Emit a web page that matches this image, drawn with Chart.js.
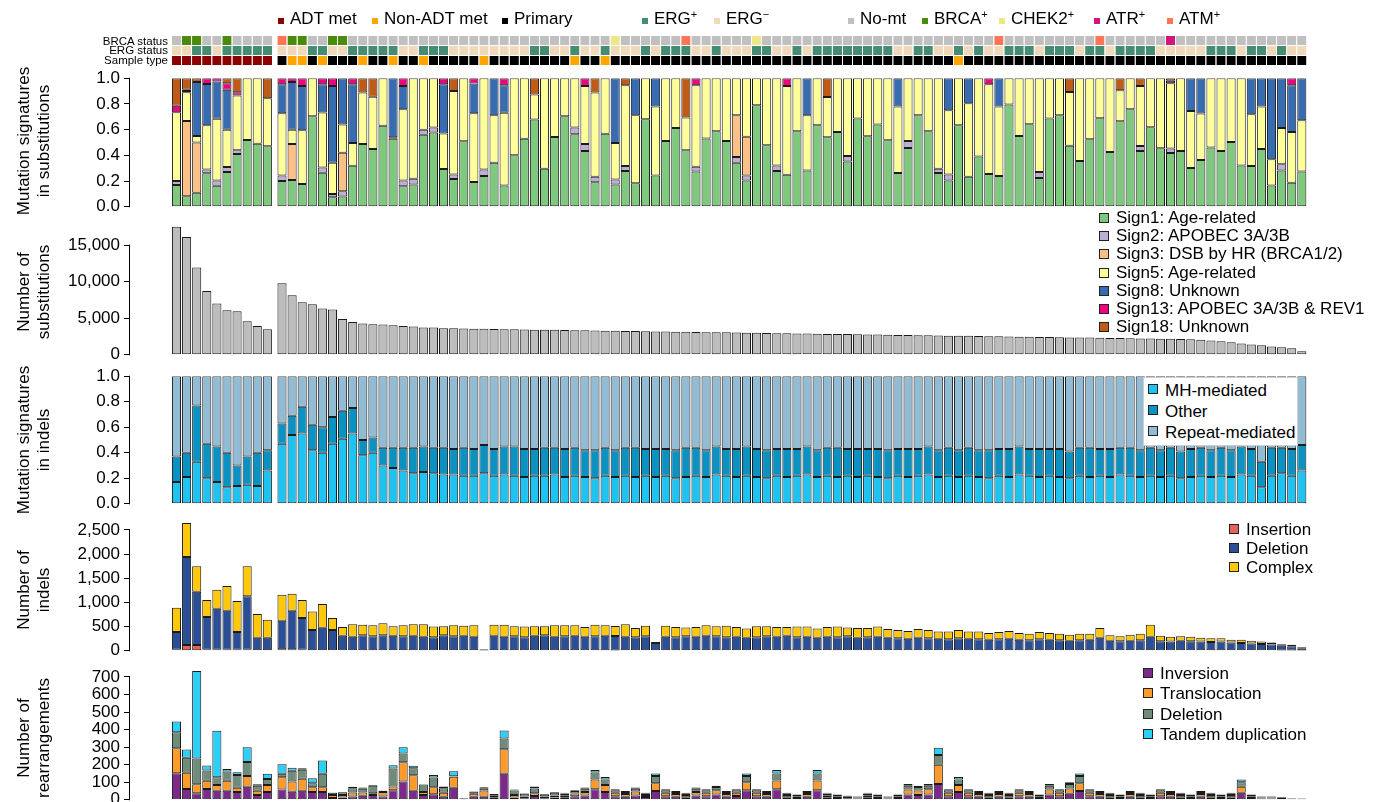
<!DOCTYPE html>
<html>
<head>
<meta charset="utf-8">
<script src="https://cdn.jsdelivr.net/npm/chart.js@4.4.1/dist/chart.umd.min.js"></script>
<style>
  body { margin: 0; background: #fff; font-family: "Liberation Sans", Arial, sans-serif; color: #000; }
  #wrap { position: relative; width: 1380px; height: 802px; overflow: hidden; }
  canvas { position: absolute; left: 0; }
  .lab { position: absolute; white-space: nowrap; }
  .ytitle { position: absolute; width: 220px; height: 40px; line-height: 20px; font-size: 17px;
            text-align: center; transform: rotate(-90deg); white-space: nowrap; }
  .leg { position: absolute; font-size: 17px; z-index: 5; }
  .leg div { position: relative; height: 19px; line-height: 19px; padding-left: 17px; white-space: nowrap; }
  .leg i { position: absolute; left: 0; top: 4px; width: 10px; height: 10px; border: 1px solid #222; box-sizing: border-box; }
  sup { font-size: 11px; vertical-align: 6px; line-height: 0; }
</style>
</head>
<body>
<div id="wrap">
  <canvas id="tracks"></canvas>
  <canvas id="c1"></canvas>
  <canvas id="c2"></canvas>
  <canvas id="c3"></canvas>
  <canvas id="c4"></canvas>
  <canvas id="c5"></canvas>
</div>
<script>
// ---- data: first line = 10 ADT metastases, then 102 other samples (rows of 10) ----
const groupSizes = [10, 102];

const brcaStatus = ('NBBNNBNNNN' +
  'MBBNNBBNNNNNNNNNNNNNNNNNNNNNNNNNNCNNNNNNMNNNNNNCNNNNNNNNNNNNNNNNNNNNNNNMNNNNNNNNNMNNNNNNRNNNNNNNNNNNNN').split('');
const ergStatus = ('--++-+++++' +
  '---++--+++++--+++--------++--+--+---+-+++--+---++--+-++++++++--++--+-+--+++-+++-++-++++-----+++-++-+--').split('');
const sampleType = ('AAAAAAAAAA' +
  'PNNPNPPPNPPNPPNPPPPPNPPPPPPPPNPPNPPPPPPPPPPPPPPPPPPPPPPPPPPPPPPPPPPNPPPPPPPPPPPPPPPPPPPPPPPPPPPPPPPPPP').split('');

// substitution signatures (fractions)
const sign1 = [.17,.083,.11,.26,.164,.27,.41,.52,.49,.47,
  .20,.208,.177,.704,.265,.075,.08,.32,.488,.45,
  .63,.53,.16,.174,.56,.577,.293,.216,.51,.193,
  .24,.343,.166,.40,.53,.678,.296,.543,.704,.564,
  .434,.19,.569,.174,.278,.184,.68,.244,.512,.613,
  .439,.275,.532,.587,.512,.343,.205,.79,.478,.278,
  .249,.587,.283,.634,.54,.582,.353,.686,.548,.639,
  .517,.262,.457,.712,.587,.262,.205,.634,.233,.392,
  .255,.239,.795,.55,.642,.223,.686,.712,.475,.356,
  .525,.688,.426,.665,.758,.434,.618,.455,.418,.434,
  .301,.364,.462,.434,.504,.322,.317,.449,.166,.283,
  .187,.275];
const sign2 = [.03,0,0,.03,.04,.04,.03,0,0,0,
  .044,0,0,0,.04,.025,.04,0,0,0,
  0,0,.045,.044,.04,.039,0,.036,0,0,
  .05,0,0,0,0,0,0,0,0,.052,
  .055,.044,0,.039,.04,0,0,0,0,0,
  0,.036,0,0,0,.044,.039,0,0,.044,
  0,0,0,0,0,0,.042,0,0,0,
  0,0,.055,0,0,.034,.047,0,0,0,
  0,0,0,0,0,.047,0,0,0,0,
  0,0,0,0,0,.039,0,0,.036,0,
  0,0,0,0,0,0,0,0,0,.047,
  0,0];
const sign3 = [0,.584,.39,0,0,0,0,0,0,0,
  0,.28,0,0,0,0,.30,0,0,0,
  0,0,0,0,0,0,0,0,0,0,
  0,0,0,0,0,0,0,0,0,0,
  0,0,0,0,0,0,0,0,0,0,
  0,0,0,0,0,.325,.30,0,0,0,
  0,0,0,0,0,0,0,0,0,0,
  0,0,0,0,0,0,0,0,0,0,
  0,0,0,0,0,0,0,0,0,0,
  0,0,0,0,0,0,0,0,0,0,
  0,0,0,0,0,0,0,0,0,0,
  0,0];
const sign5 = [.535,.223,.05,.344,.48,.29,.425,.48,.51,.375,
  .483,.112,.418,.296,.428,.243,.22,.176,.40,.405,
  .37,.01,.553,.782,.40,.384,.277,.648,.49,.535,
  .71,.369,.566,.60,.47,.195,.704,.457,.296,.384,
  .451,.655,.431,.283,.627,.528,.32,.535,.488,.387,
  .255,.634,.468,.413,.488,.288,.456,.21,.522,.678,
  .691,.413,.429,.366,.314,.418,.605,.314,.452,.361,
  .483,.517,.488,.288,.413,.704,.499,.366,.572,.608,
  .698,.54,.205,.45,.358,.73,.314,.288,.418,.644,
  .475,.312,.574,.241,.242,.467,.382,.545,.506,.566,
  .444,.361,.538,.566,.496,.678,.403,.33,.203,.283,
  .395,.398];
const sign8 = [0,.01,.42,.32,.29,.31,0,0,0,0,
  .226,.37,.345,0,.22,.597,.36,.457,0,0,
  0,.46,.182,0,0,0,.383,0,0,.23,
  0,.288,.213,0,0,0,0,0,0,0,
  0,0,0,.504,0,.288,0,.221,0,0,
  0,0,0,0,0,0,0,0,0,0,
  0,0,.288,0,0,0,0,0,0,0,
  0,.221,0,0,0,0,.249,0,.195,0,
  0,.221,0,0,0,0,0,0,0,0,
  0,0,0,0,0,0,0,0,0,0,
  .255,.275,0,0,0,0,.28,.221,.631,.387,
  .363,.327];
const sign13 = [.05,.01,0,.046,.026,.05,.025,0,0,0,
  .047,.03,.06,0,.047,.06,0,.047,0,0,
  0,0,.06,0,0,0,.047,0,0,.042,
  0,0,.055,0,0,0,0,0,0,0,
  .06,0,0,0,0,0,0,0,0,0,
  0,.055,0,0,0,0,0,0,0,0,
  .06,0,0,0,0,0,0,0,0,0,
  0,0,0,0,0,0,0,0,0,0,
  .047,0,0,0,0,0,0,0,0,0,
  0,0,0,0,0,0,0,0,.02,0,
  0,0,0,0,0,0,0,0,0,0,
  .055,0];
const sign18 = [.215,.09,.03,0,0,.04,.11,0,0,.155,
  0,0,0,0,0,0,0,0,.112,.145,
  0,0,0,0,0,0,0,.10,0,0,
  0,0,0,0,0,.127,0,0,0,0,
  0,.111,0,0,.055,0,0,0,0,0,
  .306,0,0,0,0,0,0,0,0,0,
  0,0,0,0,.146,0,0,0,0,0,
  0,0,0,0,0,0,0,0,0,0,
  0,0,0,0,0,0,0,0,.107,0,
  0,0,0,.094,0,.06,0,0,.02,0,
  0,0,0,0,0,0,0,0,0,0,
  0,0];

// number of substitutions
const substitutions = [17500,16100,11950,8730,7000,6090,5950,4590,3950,3500,
  9770,8140,7180,6900,6320,6180,4900,4500,4270,4180,
  4140,4050,3950,3860,3730,3730,3640,3640,3600,3580,
  3560,3540,3500,3490,3470,3440,3420,3410,3380,3360,
  3350,3320,3290,3280,3260,3250,3220,3200,3190,3160,
  3140,3130,3100,3080,3070,3040,3020,3010,2980,2960,
  2950,2920,2900,2890,2860,2840,2830,2800,2780,2770,
  2740,2720,2710,2680,2660,2650,2620,2600,2590,2560,
  2540,2530,2500,2480,2470,2440,2420,2410,2380,2360,
  2350,2320,2300,2290,2260,2240,2230,2200,2180,2150,
  2110,2050,1960,1850,1700,1560,1420,1300,1150,1020,
  900,480];

// indel signatures (fractions)
const mhMediated = [.17,.21,.33,.20,.17,.13,.14,.15,.14,.26,
  .47,.54,.55,.42,.40,.47,.51,.55,.38,.40,
  .30,.28,.26,.24,.25,.24,.23,.23,.22,.22,
  .24,.22,.23,.22,.21,.22,.22,.23,.21,.22,
  .21,.20,.22,.21,.22,.21,.22,.21,.22,.20,
  .21,.22,.21,.23,.22,.21,.22,.21,.20,.22,
  .21,.22,.23,.21,.22,.21,.22,.21,.22,.21,
  .20,.22,.21,.22,.23,.21,.22,.21,.22,.21,
  .20,.22,.21,.23,.22,.21,.22,.21,.20,.22,
  .21,.22,.21,.23,.22,.21,.22,.21,.22,.20,
  .21,.22,.21,.22,.21,.23,.22,.13,.22,.24,
  .22,.26];
const otherIndel = [.20,.19,.44,.27,.28,.27,.16,.22,.26,.16,
  .16,.15,.21,.20,.20,.21,.22,.20,.12,.12,
  .14,.16,.18,.20,.20,.20,.21,.20,.22,.21,
  .22,.21,.22,.23,.22,.21,.22,.21,.22,.22,
  .21,.22,.22,.21,.22,.23,.21,.22,.21,.22,
  .23,.22,.21,.22,.21,.22,.23,.22,.22,.21,
  .22,.21,.22,.21,.22,.23,.21,.22,.21,.22,
  .22,.21,.22,.21,.22,.21,.22,.21,.22,.21,
  .22,.21,.22,.22,.21,.22,.21,.22,.21,.22,
  .23,.21,.22,.21,.22,.21,.22,.21,.22,.21,
  .22,.22,.21,.22,.21,.22,.21,.20,.22,.20,
  .21,.20];
const repeatMediated = mhMediated.map((v, i) => Math.max(0, 1 - v - otherIndel[i]));

// number of indels
const insertion = [20,120,120,20,20,20,20,20,10,10,
  30,30,20,10,10,10,10,10,10,10,
  10,10,10,10,10,10,10,10,10,10,
  5,10,10,10,10,10,10,10,10,10,
  10,10,10,5,10,10,10,10,10,10,
  10,10,10,10,10,10,10,10,10,10,
  10,10,10,10,10,10,10,10,10,10,
  10,10,10,10,10,10,10,10,10,10,
  10,10,10,10,10,10,10,10,10,10,
  10,10,10,10,10,10,10,10,10,10,
  10,10,10,10,10,10,10,10,10,5,
  5,5];
const deletion = [370,1820,1100,680,850,810,370,1110,260,260,
  590,800,660,420,465,420,300,280,310,290,
  310,300,290,300,280,270,310,290,300,280,
  20,300,280,290,270,300,310,280,290,300,
  280,290,300,300,280,270,290,150,280,270,
  290,280,300,290,270,280,260,270,290,280,
  300,270,280,260,280,270,290,260,270,280,
  260,250,240,260,250,240,230,250,240,230,
  220,230,240,220,210,230,220,210,200,210,
  220,260,200,190,200,210,280,190,180,200,
  190,180,170,180,160,150,140,130,120,100,
  90,50];
const complexIndel = [500,700,530,350,390,510,640,620,490,370,
  540,350,370,380,490,250,180,260,220,230,
  250,200,230,240,260,220,190,230,210,240,
  10,230,250,210,220,200,190,240,230,220,
  200,240,220,210,260,190,220,20,230,210,
  180,200,220,210,240,200,190,230,210,200,
  180,220,210,190,200,220,180,200,190,210,
  180,170,160,180,170,150,160,170,150,160,
  140,150,160,140,130,150,140,130,120,130,
  120,200,110,100,120,130,250,110,100,90,
  90,80,80,70,60,70,60,50,40,30,
  30,20];

// number of rearrangements
const inversion = [152,61,38,61,51,51,44,74,28,44,
  59,46,51,44,44,10,13,19,23,28,
  19,55,104,51,28,32,17,68,5,17,
  17,15,148,13,9,21,9,13,14,20,
  25,60,45,20,18,25,16,50,20,18,
  15,25,20,30,18,22,55,20,18,60,
  15,10,18,55,14,10,9,7,14,10,
  7,10,30,28,30,90,20,45,20,18,
  15,18,15,20,18,10,30,20,35,50,
  20,18,15,10,18,15,10,20,18,15,
  10,18,15,10,15,40,10,7,7,5,
  4,3];
const translocation = [142,93,51,47,34,57,24,61,23,41,
  70,58,69,28,28,18,15,23,19,10,
  25,21,110,89,16,40,23,63,3,17,
  36,8,140,15,10,17,10,12,12,16,
  20,55,40,20,15,22,12,45,20,15,
  12,20,20,25,15,18,45,20,15,50,
  12,10,15,55,12,10,8,6,12,10,
  6,10,28,25,30,110,20,40,20,15,
  12,15,12,20,15,10,28,20,30,45,
  20,15,12,10,15,12,10,20,15,12,
  10,15,12,10,12,35,10,6,6,5,
  3,2];
const rDeletion = [91,85,146,59,44,53,74,81,29,33,
  19,61,51,23,76,12,15,24,21,42,
  7,102,50,40,43,55,26,3,2,13,
  13,10,61,25,16,27,12,15,10,14,
  18,40,30,15,12,16,9,40,15,12,
  10,18,15,18,12,15,35,15,12,40,
  10,8,12,40,10,8,6,5,10,8,
  5,8,22,20,20,55,15,30,15,12,
  10,12,10,15,12,8,22,15,25,40,
  15,12,10,8,12,10,8,15,12,10,
  8,12,10,8,10,25,8,5,5,4,
  2,2];
const tandemDup = [61,47,499,28,264,15,15,84,9,30,
  55,17,9,28,76,2,2,8,7,4,
  2,19,36,14,2,15,10,29,0,0,
  6,0,46,6,2,11,2,5,4,5,
  7,15,15,5,5,7,3,15,5,5,
  3,7,5,7,5,5,15,5,5,20,
  3,2,5,20,4,2,2,2,4,2,
  2,2,10,7,10,41,5,15,5,5,
  3,5,3,5,5,2,10,5,10,15,
  5,5,3,2,5,3,2,5,5,3,
  2,5,3,2,3,15,2,2,2,1,
  1,1];

// tick labels
const ticksSig = [0, 0.2, 0.4, 0.6, 0.8, 1.0];
const ticksSubs = [0, 5000, 10000, 15000];
const ticksIndels = [0, 500, 1000, 1500, 2000, 2500];
const ticksRearr = [0, 100, 200, 300, 400, 500, 600, 700];

// ---- layout helpers ----
const X_MIN = -4.604, X_MAX = 112.46, RIGHT_PAD = 68;
const xPos = [];
for (let g = 0, off = 0; g < groupSizes.length; g++) {
  for (let i = 0; i < groupSizes[g]; i++) xPos.push(off + i);
  off += groupSizes[g] + 0.45;
}
const pts = arr => arr.map((v, i) => ({x: xPos[i], y: v}));
const FONT = '"Liberation Sans", Arial, sans-serif';
const xScale = {type: 'linear', min: X_MIN, max: X_MAX, offset: false, stacked: true, display: false};

const axisLine = {
  id: 'axisLine',
  afterDraw(chart) {
    const s = chart.scales.y;
    if (!s || !s.options.display) return;
    const t = s.ticks;
    const y0 = s.getPixelForValue(t[0].value), y1 = s.getPixelForValue(t[t.length - 1].value);
    const ctx = chart.ctx;
    ctx.save();
    ctx.strokeStyle = '#000'; ctx.lineWidth = 1;
    ctx.beginPath(); ctx.moveTo(s.right - 0.5, y0 + 0.5); ctx.lineTo(s.right - 0.5, y1 - 0.5); ctx.stroke();
    ctx.restore();
  }
};

function panel(id, areaTop, areaBottom, datasets, yMax, tickVals, fmt) {
  const cv = document.getElementById(id);
  const top = areaTop - 14, h = areaBottom - top + 14;
  cv.width = 1380; cv.height = h; cv.style.top = top + 'px';
  return new Chart(cv, {
    type: 'bar',
    data: {datasets},
    options: {
      responsive: false, animation: false, devicePixelRatio: 1, events: [],
      layout: {autoPadding: false, padding: {top: areaTop - top, bottom: h - (areaBottom - top), left: 0, right: RIGHT_PAD}},
      plugins: {legend: {display: false}, tooltip: {enabled: false}},
      datasets: {bar: {barPercentage: 0.9, categoryPercentage: 1, borderColor: '#1b1b1b', borderWidth: 1, borderSkipped: false}},
      scales: {
        x: xScale,
        y: {
          min: 0, max: yMax, stacked: true,
          border: {display: false},
          grid: {drawOnChartArea: false, drawTicks: true, tickLength: 6, color: '#000', lineWidth: 1},
          ticks: {color: '#000', padding: 4, autoSkip: false, font: {family: FONT, size: 17}, callback: fmt},
          afterBuildTicks: s => { s.ticks = tickVals.map(v => ({value: v})); },
          afterFit: s => { s.width = 130; }
        }
      }
    },
    plugins: [axisLine]
  });
}
const ds = (label, arr, color) => ({label, data: pts(arr), backgroundColor: color});
const fmtNum = v => Number(v).toLocaleString('en-US');

// ---- annotation tracks ----
const brcaColors = {N: '#c0c0c0', B: '#4a8b0c', C: '#ece88a', R: '#d0157c', M: '#ff7556'};
const ergColors = {'+': '#458c72', '-': '#f0d8ba'};
const typeColors = {A: '#8b0000', N: '#ffa500', P: '#000000'};
(function () {
  const cv = document.getElementById('tracks');
  cv.width = 1380; cv.height = 70; cv.style.top = '0px';
  const one = xPos.map(x => ({x, y: 1}));
  const mk = (arr, map) => ({data: one, backgroundColor: arr.map(c => map[c]),
    borderColor: '#fff', borderWidth: {top: 1, left: 0, right: 0, bottom: 0}, borderSkipped: false,
    barPercentage: 0.92, categoryPercentage: 1});
  new Chart(cv, {
    type: 'bar',
    data: {datasets: [mk(sampleType, typeColors), mk(ergStatus, ergColors), mk(brcaStatus, brcaColors)]},
    options: {
      responsive: false, animation: false, devicePixelRatio: 1, events: [],
      layout: {autoPadding: false, padding: {top: 35, bottom: 5, left: 130, right: RIGHT_PAD}},
      plugins: {legend: {display: false}, tooltip: {enabled: false}},
      scales: {x: xScale, y: {min: 0, max: 3, stacked: true, display: false}}
    }
  });
})();

// ---- panels ----
panel('c1', 78, 207, [
  ds('Sign1: Age-related', sign1, '#7fc97f'),
  ds('Sign2: APOBEC 3A/3B', sign2, '#beaed4'),
  ds('Sign3: DSB by HR (BRCA1/2)', sign3, '#fdc086'),
  ds('Sign5: Age-related', sign5, '#ffff99'),
  ds('Sign8: Unknown', sign8, '#386cb0'),
  ds('Sign13: APOBEC 3A/3B & REV1', sign13, '#f0027f'),
  ds('Sign18: Unknown', sign18, '#bf5b17')
], 1, ticksSig, v => Number(v).toFixed(1));

panel('c2', 223, 355, [ds('Substitutions', substitutions, '#bdbdbd')], 18000, ticksSubs, fmtNum);

panel('c3', 376, 504, [
  ds('MH-mediated', mhMediated, '#1ec3f2'),
  ds('Other', otherIndel, '#0a92c2'),
  ds('Repeat-mediated', repeatMediated, '#92bbd4')
], 1, ticksSig, v => Number(v).toFixed(1));

panel('c4', 520, 651, [
  ds('Insertion', insertion, '#e8605e'),
  ds('Deletion', deletion, '#2a4f96'),
  ds('Complex', complexIndel, '#ffc80a')
], 2700, ticksIndels, fmtNum);

panel('c5', 668, 800, [
  ds('Inversion', inversion, '#7b2a8c'),
  ds('Translocation', translocation, '#fd9a2a'),
  ds('Deletion', rDeletion, '#6e8c79'),
  ds('Tandem duplication', tandemDup, '#2ccff5')
], 750, ticksRearr, fmtNum);

// ---- text: titles, legends, track labels ----
const wrap = document.getElementById('wrap');
function add(html, cls, style) {
  const d = document.createElement('div');
  d.className = cls; d.innerHTML = html; Object.assign(d.style, style); wrap.appendChild(d); return d;
}
[['Mutation signatures<br>in substitutions', 141], ['Number of<br>substitutions', 292],
 ['Mutation signatures<br>in indels', 440], ['Number of<br>indels', 590], ['Number of<br>rearrangements', 738]]
  .forEach(([t, cy]) => add(t, 'ytitle', {left: (34 - 110) + 'px', top: (cy - 20) + 'px'}));

[['BRCA status', 40.5], ['ERG status', 50], ['Sample type', 60]].forEach(([t, cy]) =>
  add(t, 'lab', {right: (1380 - 168) + 'px', top: (cy - 6) + 'px', fontSize: '11.5px', lineHeight: '12px'}));

const topLegend = [
  ['ADT met', '#8b0000', 278], ['Non-ADT met', '#ffa500', 372], ['Primary', '#000', 502],
  ['ERG<sup>+</sup>', '#458c72', 642], ['ERG<sup>\u2212</sup>', '#f0d8ba', 714],
  ['No-mt', '#c0c0c0', 848], ['BRCA<sup>+</sup>', '#4a8b0c', 922], ['CHEK2<sup>+</sup>', '#ece88a', 999],
  ['ATR<sup>+</sup>', '#d0157c', 1094], ['ATM<sup>+</sup>', '#ff7556', 1167]
];
topLegend.forEach(([t, c, x]) => {
  add('', 'lab', {left: x + 'px', top: '18px', width: '6px', height: '6px', background: c});
  add(t, 'lab', {left: (x + 12) + 'px', top: '9px', fontSize: '17px', lineHeight: '20px'});
});

function legend(items, left, top, rowH, boxStyle) {
  const d = add(items.map(([t, c]) => '<div><i style="background:' + c + '"></i>' + t + '</div>').join(''),
    'leg', Object.assign({left: left + 'px', top: top + 'px'}, boxStyle || {}));
  d.querySelectorAll('div').forEach(r => { r.style.height = rowH + 'px'; r.style.lineHeight = rowH + 'px'; });
}
legend([['Sign1: Age-related', '#7fc97f'], ['Sign2: APOBEC 3A/3B', '#beaed4'], ['Sign3: DSB by HR (BRCA1/2)', '#fdc086'],
  ['Sign5: Age-related', '#ffff99'], ['Sign8: Unknown', '#386cb0'], ['Sign13: APOBEC 3A/3B &amp; REV1', '#f0027f'],
  ['Sign18: Unknown', '#bf5b17']], 1099, 209, 18.2);
legend([['MH-mediated', '#1ec3f2'], ['Other', '#0a92c2'], ['Repeat-mediated', '#92bbd4']], 1143, 377, 21,
  {background: '#fff', border: '1px solid #cfcfcf', padding: '2px 6px 2px 4px', width: '143px'});
legend([['Insertion', '#e8605e'], ['Deletion', '#2a4f96'], ['Complex', '#ffc80a']], 1229, 520, 19);
legend([['Inversion', '#7b2a8c'], ['Translocation', '#fd9a2a'], ['Deletion', '#6e8c79'], ['Tandem duplication', '#2ccff5']],
  1143, 664, 20.3);
</script>
</body>
</html>
